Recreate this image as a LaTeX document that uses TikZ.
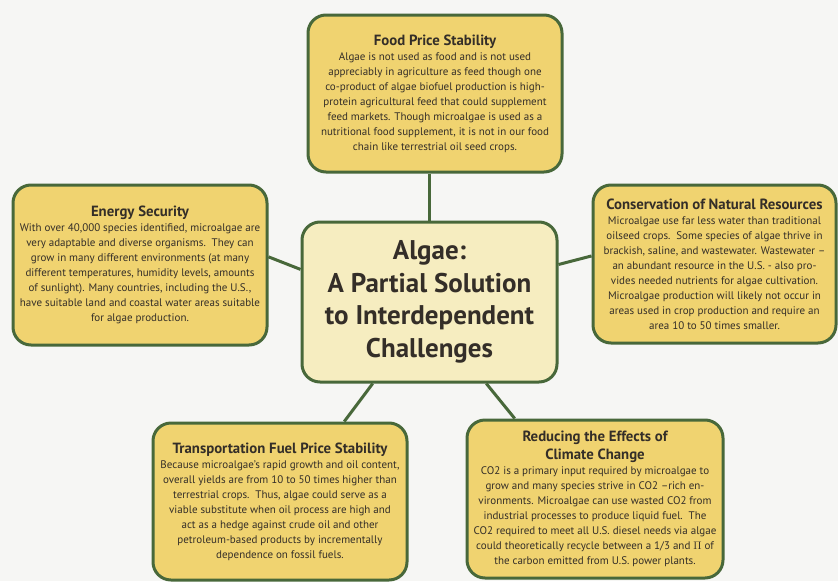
\documentclass[tikz,border=0pt]{standalone}
\usepackage{fontspec}
\setmainfont{PT Sans}
\usetikzlibrary{calc}
\definecolor{boxfill}{RGB}{240,211,112}
\definecolor{centerfill}{RGB}{246,237,192}
\definecolor{edgegreen}{RGB}{72,104,58}
\definecolor{txt}{RGB}{52,46,40}
\definecolor{bg}{RGB}{246,246,244}
\tikzset{
  infobox/.style={draw=edgegreen, line width=3pt, fill=boxfill, rounded corners=18pt,
    inner sep=0pt, align=center, text=txt, font=\fontsize{11}{15}\selectfont},
  hubbox/.style={draw=edgegreen, line width=3pt, fill=centerfill, rounded corners=18pt,
    inner sep=0pt, align=center, text=txt, font=\fontsize{27}{32.5}\selectfont\bfseries},
  link/.style={draw=edgegreen, line width=3pt},
}
\newcommand{\boxtitle}[1]{{\fontsize{14.8}{17}\selectfont\bfseries #1}}
\begin{document}
\begin{tikzpicture}[x=1pt,y=-1pt]
\fill[bg] (0,0) rectangle (838,581);
\useasboundingbox (0,0) rectangle (838,581);

\node[hubbox, minimum width=255pt, minimum height=160pt] (hub) at (429.5,302)
  {Algae:\\A Partial Solution\\to Interdependent\\Challenges};

\node[infobox, minimum width=254pt, minimum height=157pt] (food) at (435,93.5)
  {\boxtitle{Food Price Stability}\\
   Algae is not used as food and is not used\\
   appreciably in agriculture as feed though one\\
   co-product of algae biofuel production is high-\\
   protein agricultural feed that could supplement\\
   feed markets. Though microalgae is used as a\\
   nutritional food supplement, it is not in our food\\
   chain like terrestrial oil seed crops.};

\node[infobox, minimum width=254pt, minimum height=160pt] (energy) at (140,265)
  {\boxtitle{Energy Security}\\
   With over 40,000 species identified, microalgae are\\
   very adaptable and diverse organisms.\ \ They can\\
   grow in many different environments (at many\\
   different temperatures, humidity levels, amounts\\
   of sunlight). Many countries, including the U.S.,\\
   have suitable land and coastal water areas suitable\\
   for algae production.};

\node[infobox, minimum width=243pt, minimum height=158pt] (cons) at (714.5,264)
  {\boxtitle{Conservation of Natural Resources}\\
   Microalgae use far less water than traditional\\
   oilseed crops.\ \ Some species of algae thrive in\\
   brackish, saline, and wastewater. Wastewater --\\
   an abundant resource in the U.S. - also pro-\\
   vides needed nutrients for algae cultivation.\\
   Microalgae production will likely not occur in\\
   areas used in crop production and require an\\
   area 10 to 50 times smaller.};

\node[infobox, minimum width=254pt, minimum height=157pt] (trans) at (280,501.5)
  {\boxtitle{Transportation Fuel Price Stability}\\
   Because microalgae's rapid growth and oil content,\\
   overall yields are from 10 to 50 times higher than\\
   terrestrial crops.\ \ Thus, algae could serve as a\\
   viable substitute when oil process are high and\\
   act as a hedge against crude oil and other\\
   petroleum-based products by incrementally\\
   dependence on fossil fuels.};

\node[infobox, minimum width=256pt, minimum height=158pt] (clim) at (595,499)
  {\boxtitle{Reducing the Effects of}\\[3pt]
   \boxtitle{Climate Change}\\
   CO2 is a primary input required by microalgae to\\
   grow and many species strive in CO2 --rich en-\\
   vironments. Microalgae can use wasted CO2 from\\
   industrial processes to produce liquid fuel.\ \ The\\
   CO2 required to meet all U.S. diesel needs via algae\\
   could theoretically recycle between a 1/3 and $\Pi$ of\\
   the carbon emitted from U.S. power plants.};

\draw[link] (food.south -| hub.north) -- (hub.north);
\draw[link] ($(energy.north east)!0.45!(energy.south east)$) -- ($(hub.north west)!0.3!(hub.south west)$);
\draw[link] ($(hub.north east)!0.27!(hub.south east)$) -- ($(cons.north west)!0.45!(cons.south west)$);
\draw[link] ($(hub.south west)!0.28!(hub.south east)$) -- ($(trans.north west)!0.75!(trans.north east)$);
\draw[link] ($(hub.south west)!0.72!(hub.south east)$) -- ($(clim.north west)!0.19!(clim.north east)$);
\end{tikzpicture}
\end{document}
